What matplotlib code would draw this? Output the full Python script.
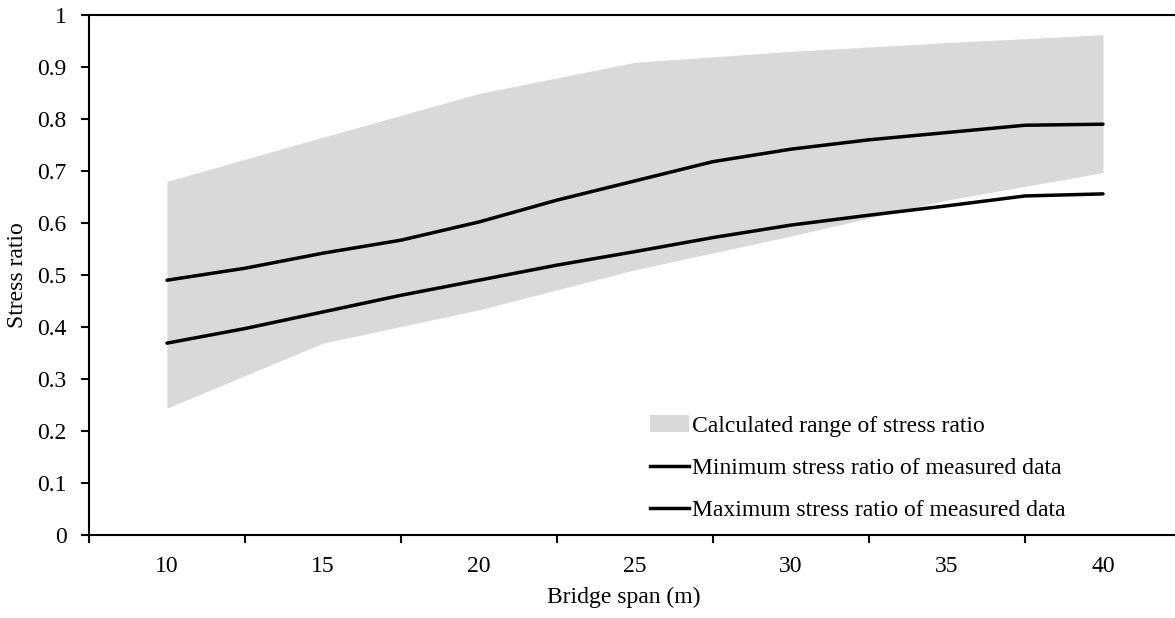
import numpy as np
import matplotlib.pyplot as plt
from matplotlib.patches import Patch
from matplotlib.lines import Line2D

plt.rcParams['font.family'] = ['Liberation Serif', 'DejaVu Serif']

# Portée du pont (m) et rapports de contrainte mesurés
span = [10, 12.5, 15, 17.5, 20, 22.5, 25, 27.5, 30, 32.5, 35, 37.5, 40]
max_measured = [0.490, 0.513, 0.542, 0.567, 0.602, 0.644, 0.681, 0.718, 0.742,
                0.760, 0.774, 0.788, 0.790]
min_measured = [0.369, 0.397, 0.429, 0.461, 0.490, 0.519, 0.545, 0.572, 0.596,
                0.615, 0.633, 0.652, 0.656]

# Plage calculée du rapport de contrainte
span_calc = [10, 15, 20, 25, 30, 35, 40]
calc_upper = [0.680, 0.765, 0.849, 0.909, 0.930, 0.947, 0.962]
calc_lower = [0.244, 0.369, 0.433, 0.510, 0.575, 0.644, 0.697]

span_labels = [10, 15, 20, 25, 30, 35, 40]

FS = 17

fig = plt.figure(figsize=(11.75, 6.18), dpi=100)
ax = fig.add_axes([89 / 1175, 1 - 535 / 618, 1 - 89 / 1175, (535 - 15) / 618])

ax.fill_between(span_calc, calc_lower, calc_upper, color='#d9d9d9', lw=0)
ax.plot(span, max_measured, color='black', lw=2.5, solid_capstyle='round')
ax.plot(span, min_measured, color='black', lw=2.5, solid_capstyle='round')

ax.set_xlim(7.5, 7.5 + (1175 - 89) / 31.2)
ax.set_ylim(0, 1)

# Graduations entre les catégories, étiquettes au centre
ax.set_xticks(np.arange(7.5, 42.5, 5))
ax.set_xticklabels([])
ax.set_xticks(span_labels, minor=True)
ax.set_xticklabels([str(s) for s in span_labels], minor=True)
ax.tick_params(axis='x', which='major', direction='out', length=6, width=1.5)
ax.tick_params(axis='x', which='minor', length=0, pad=15, labelsize=FS)

ax.set_yticks(np.arange(0, 1.01, 0.1))
ax.set_yticklabels(['0'] + [f'{v:.1f}' for v in np.arange(0.1, 0.95, 0.1)] + ['1'])
ax.tick_params(axis='y', direction='out', length=6, width=1.5, labelsize=FS, pad=10)

for side in ['left', 'bottom', 'top']:
    ax.spines[side].set_linewidth(1.5)
ax.spines['right'].set_visible(False)

fig.text(624 / 1175, 1 - 597 / 618, 'Bridge span (m)', fontsize=FS,
         ha='center', va='center')
fig.text(18 / 1175, 1 - 275 / 618, 'Stress ratio', rotation=90, fontsize=FS,
         ha='center', va='center')

handles = [Patch(facecolor='#d9d9d9', edgecolor='none'),
           Line2D([], [], color='black', lw=2.5),
           Line2D([], [], color='black', lw=2.5)]
labels = ['Calculated range of stress ratio',
          'Minimum stress ratio of measured data',
          'Maximum stress ratio of measured data']
fig.legend(handles, labels, loc='upper left',
           bbox_to_anchor=(650 / 1175, 1 - 415 / 618), frameon=False,
           fontsize=FS, handlelength=1.65, handletextpad=0.12,
           labelspacing=0.88, borderpad=0, borderaxespad=0)

fig.savefig('out.png', dpi=100)
